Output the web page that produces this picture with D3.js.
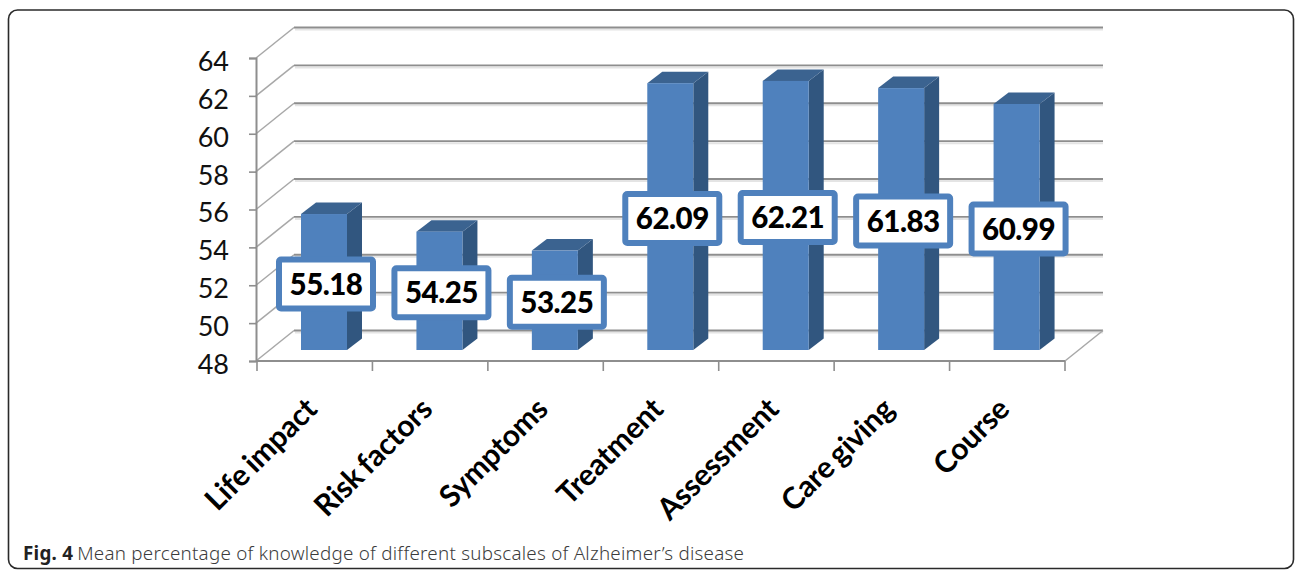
<!DOCTYPE html>
<html>
<head>
<meta charset="utf-8">
<script src="https://cdn.jsdelivr.net/npm/d3@7"></script>
<style>
  html, body { margin: 0; padding: 0; background: #fff; }
  svg { display: block; }
</style>
</head>
<body>
<svg id="chart" width="1295" height="571"></svg>
<script>
// Knowledge subscales and their mean percentages
const categories = ["Life impact", "Risk factors", "Symptoms", "Treatment", "Assessment", "Care giving", "Course"];
const meanPercent = [55.18, 54.25, 53.25, 62.09, 62.21, 61.83, 60.99];
const valueTicks = [48, 50, 52, 54, 56, 58, 60, 62, 64];
const captionBold = "Fig. 4";
const captionText = "Mean percentage of knowledge of different subscales of Alzheimer\u2019s disease";

const svg = d3.select("#chart");
const chartFont = "Lato, 'Open Sans', sans-serif";

const x = d3.scaleBand().domain(categories).range([257, 1065]);
const y = d3.scaleLinear().domain([48, 64]).range([361, 58]);

// Oblique projection: wall depth and bar depth
const wallDx = 38, wallDy = -30.5;
const barDx = 15, barDy = -11.5;
const barInset = 44, barW = 46, barLift = 11;

// Card outline
svg.append("rect")
  .attr("x", 8.5).attr("y", 10).attr("width", 1285).attr("height", 558.5)
  .attr("rx", 9).attr("fill", "#fff").attr("stroke", "#2a2a2a").attr("stroke-width", 1.6);

const grid = svg.append("g");

// Back wall gridlines with a faint shadow beneath
grid.selectAll("line.shade").data(valueTicks).join("line")
  .attr("class", "shade")
  .attr("x1", wallDx + x.range()[0]).attr("x2", wallDx + x.range()[1])
  .attr("y1", d => y(d) + wallDy + 2).attr("y2", d => y(d) + wallDy + 2)
  .attr("stroke", "#e4e4e4").attr("stroke-width", 2);

grid.selectAll("line.back").data(valueTicks).join("line")
  .attr("class", "back")
  .attr("x1", wallDx + x.range()[0] - 1).attr("x2", wallDx + x.range()[1])
  .attr("y1", d => y(d) + wallDy).attr("y2", d => y(d) + wallDy)
  .attr("stroke", "#8e8e8e").attr("stroke-width", 1.8);

// Side wall edges
grid.selectAll("line.side").data(valueTicks).join("line")
  .attr("class", "side")
  .attr("x1", x.range()[0] - 1).attr("x2", x.range()[0] - 1 + wallDx)
  .attr("y1", d => y(d)).attr("y2", d => y(d) + wallDy)
  .attr("stroke", "#a8a8a8").attr("stroke-width", 1.5);

// Floor right edge
grid.append("line")
  .attr("x1", x.range()[1]).attr("x2", x.range()[1] + wallDx)
  .attr("y1", y(48)).attr("y2", y(48) + wallDy)
  .attr("stroke", "#a8a8a8").attr("stroke-width", 1.5);

// Value axis
const yAxis = svg.append("g").attr("transform", `translate(${x.range()[0] - 1},0)`)
  .call(d3.axisLeft(y).tickValues(valueTicks).tickSize(7).tickPadding(20));
yAxis.select(".domain").attr("stroke", "#8e8e8e").attr("stroke-width", 2);
yAxis.selectAll(".tick line").attr("stroke", "#8e8e8e").attr("stroke-width", 1.6);
yAxis.selectAll(".tick text")
  .attr("font-family", chartFont).attr("font-size", 27).attr("fill", "#111")
  .attr("dy", "0.46em").attr("x", -27);

// Category axis
const tickPositions = categories.map(c => x(c)).concat(x.range()[1]);
const xAxisG = svg.append("g");
xAxisG.append("line")
  .attr("x1", x.range()[0] - 1).attr("x2", x.range()[1])
  .attr("y1", y(48)).attr("y2", y(48))
  .attr("stroke", "#8e8e8e").attr("stroke-width", 2);
xAxisG.selectAll("line.tick").data(tickPositions).join("line")
  .attr("class", "tick")
  .attr("x1", d => d).attr("x2", d => d)
  .attr("y1", y(48)).attr("y2", y(48) + 10)
  .attr("stroke", "#8e8e8e").attr("stroke-width", 1.6);

xAxisG.selectAll("text").data(categories).join("text")
  .attr("transform", d => `translate(${x(d) + x.bandwidth() / 2 + 4},${y(48) + 50}) rotate(-45)`)
  .attr("text-anchor", "end")
  .attr("font-family", chartFont).attr("font-weight", 700).attr("font-size", 30)
  .attr("letter-spacing", "-0.2").attr("word-spacing", "-2").attr("fill", "#000")
  .text(d => d);

// Bars
const rows = categories.map((c, i) => ({ category: c, value: meanPercent[i] }));
const bar = svg.append("g").selectAll("g").data(rows).join("g");
const barLeft = d => x(d.category) + barInset;
const barTop = d => y(d.value) - barLift;
const barBase = y(48) - barLift;

bar.append("path").attr("fill", "#31567f")
  .attr("d", d => d3.line()([
    [barLeft(d) + barW, barTop(d)],
    [barLeft(d) + barW + barDx, barTop(d) + barDy],
    [barLeft(d) + barW + barDx, barBase + barDy],
    [barLeft(d) + barW, barBase]
  ]) + "Z");

bar.append("path").attr("fill", "#3b6390")
  .attr("d", d => d3.line()([
    [barLeft(d), barTop(d)],
    [barLeft(d) + barDx, barTop(d) + barDy],
    [barLeft(d) + barW + barDx, barTop(d) + barDy],
    [barLeft(d) + barW, barTop(d)]
  ]) + "Z");

bar.append("rect").attr("fill", "#4f81bd")
  .attr("x", barLeft).attr("y", barTop).attr("width", barW)
  .attr("height", d => barBase - barTop(d));

// Value callouts centred on each bar
const labelW = 94, labelH = 49;
const label = svg.append("g").selectAll("g").data(rows).join("g")
  .attr("transform", d => `translate(${barLeft(d) + barW / 2 + 2},${(barTop(d) + barBase) / 2 + 2})`);

label.append("rect")
  .attr("x", -labelW / 2).attr("y", -labelH / 2)
  .attr("width", labelW).attr("height", labelH).attr("rx", 2)
  .attr("fill", "#fff").attr("stroke", "#4f81bd").attr("stroke-width", 6);

label.append("text")
  .attr("text-anchor", "middle").attr("dy", "0.36em")
  .attr("font-family", chartFont).attr("font-weight", 900).attr("font-size", 29.5)
  .attr("letter-spacing", "-0.5").attr("fill", "#000")
  .text(d => d.value.toFixed(2));

// Caption
const cap = svg.append("text")
  .attr("x", 23).attr("y", 560)
  .attr("font-family", "'Noto Sans', sans-serif").attr("font-size", 18.8).attr("letter-spacing", "0.25").attr("fill", "#3c3c3c");
cap.append("tspan").attr("font-weight", 700).attr("fill", "#222").text(captionBold);
cap.append("tspan").attr("dx", 4).attr("font-weight", 300).text(captionText);
</script>
</body>
</html>
